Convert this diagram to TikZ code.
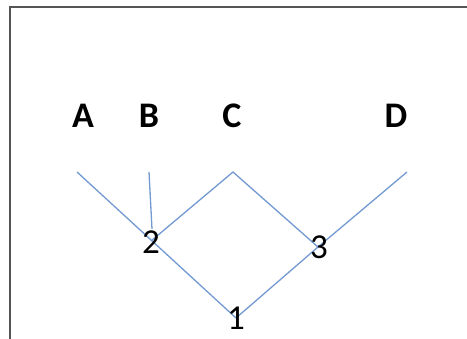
\documentclass[tikz,border=0pt]{standalone}
\usepackage{fontspec}
\setmainfont{Carlito}
\definecolor{edge}{HTML}{7399D2}
\definecolor{frame}{HTML}{555555}
\begin{document}
\begin{tikzpicture}[x=1pt,y=-1pt,
  conn/.style={draw=edge,line width=1.3pt},
  leaf/.style={font=\fontsize{36}{36}\selectfont\bfseries,inner sep=0pt},
  num/.style={font=\fontsize{35}{35}\selectfont,inner sep=0pt}]
\useasboundingbox (0,0) rectangle (467,339);
\draw[frame,line width=2pt] (10,339) -- (10,7) -- (467,7);
% labels
\node[leaf] (A) at (83,116) {A};
\node[leaf] (B) at (149,116) {B};
\node[leaf] (C) at (232,116) {C};
\node[leaf] (D) at (396,116) {D};
% line ends
\coordinate (a) at (77,172);
\coordinate (b) at (149,172);
\coordinate (c) at (233,172);
\coordinate (d) at (407,172);
\coordinate (n1) at (236,318);
\coordinate (n2) at (151,241);
\coordinate (n3) at (318,247);
\coordinate (b2) at (152,229);
\draw[conn] (a) -- (n1);
\draw[conn] (b) -- (b2);
\draw[conn] (n2) -- (c) -- (n3) -- (n1);
\draw[conn] (n3) -- (d);
\node[num] (l2) at (151,242) {2};
\node[num] (l3) at (319,247) {3};
\node[num] (l1) at (236,318) {1};
\end{tikzpicture}
\end{document}
